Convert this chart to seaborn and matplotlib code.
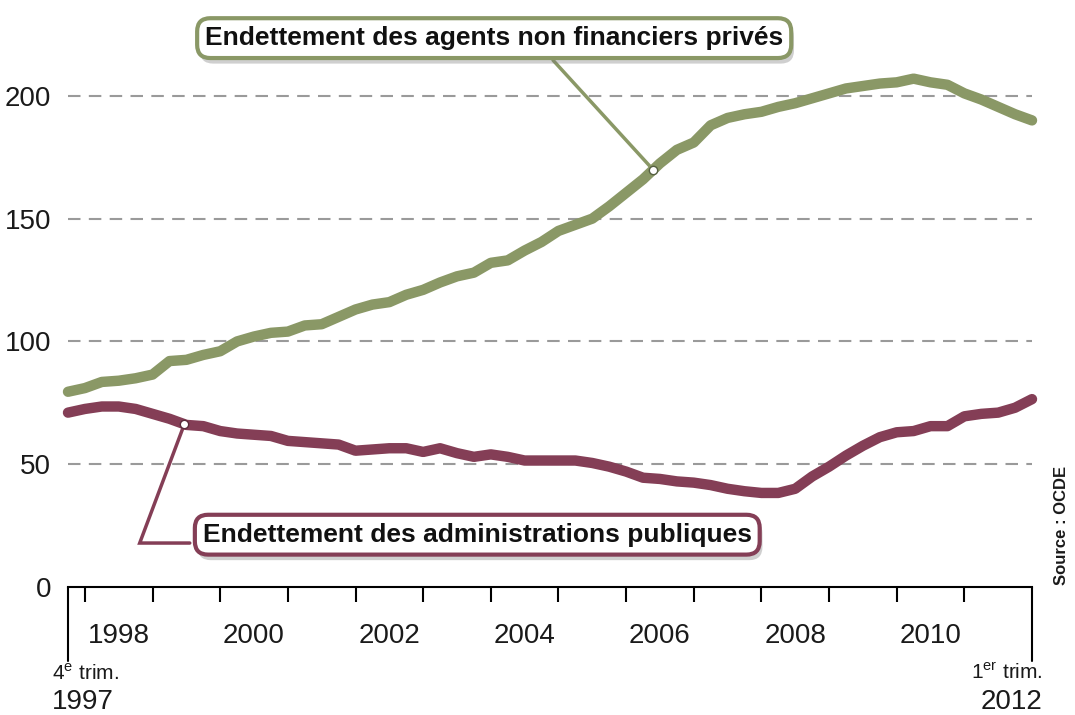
import numpy as np
import pandas as pd
import matplotlib
matplotlib.use("Agg")
import matplotlib.pyplot as plt
import matplotlib.patheffects as pe
import seaborn as sns

# ---- data (quarterly, 1997 Q4 -> 2012 Q1) ----
start_year = 1997.75
prives = [79.5, 81, 83.5, 84, 85, 86.5, 92, 92.5, 94.5, 96,
          100, 102, 103.5, 104, 106.5, 107, 110, 113, 115, 116,
          119, 121, 124, 126.5, 128, 132, 133, 137, 140.5, 145,
          147.5, 150, 155, 160.5, 166, 172.5, 178, 181, 188, 191,
          192.5, 193.5, 195.5, 197, 199, 201, 203, 204, 205, 205.5,
          207, 205.5, 204.5, 201, 198.5, 195.5, 192.5, 190]
publiques = [71, 72.5, 73.5, 73.5, 72.5, 70.5, 68.5, 66, 65.5, 63.5,
             62.5, 62, 61.5, 59.5, 59, 58.5, 58, 55.5, 56, 56.5,
             56.5, 55, 56.5, 54.5, 53, 54, 53, 51.5, 51.5, 51.5,
             51.5, 50.5, 49, 47, 44.5, 44, 43, 42.5, 41.5, 40,
             39, 38.3, 38.3, 40, 45, 49, 53.5, 57.5, 61, 63,
             63.5, 65.5, 65.5, 69.5, 70.5, 71, 73, 76.5]
quarters = start_year + np.arange(len(prives)) * 0.25
label_prives = "Endettement des agents non financiers privés"
label_publiques = "Endettement des administrations publiques"
y_ticks = [0, 50, 100, 150, 200]
year_labels = [1998, 2000, 2002, 2004, 2006, 2008, 2010]
source = "Source : OCDE"

df = pd.DataFrame({
    "date": np.concatenate([quarters, quarters]),
    "valeur": prives + publiques,
    "serie": [label_prives] * len(prives) + [label_publiques] * len(publiques),
})

green = "#8a9866"
purple = "#843e56"

sns.set_theme(style="white")
plt.rcParams["font.family"] = ["Liberation Sans", "DejaVu Sans"]
plt.rcParams["mathtext.fontset"] = "custom"
plt.rcParams["mathtext.rm"] = "Liberation Sans"

fig = plt.figure(figsize=(10.75, 7.15), dpi=100)
ax = fig.add_axes([68 / 1075, 1 - 587 / 715, (1032 - 68) / 1075, (587 - 59) / 715])

sns.lineplot(data=df, x="date", y="valeur", hue="serie",
             palette={label_prives: green, label_publiques: purple},
             linewidth=7.5, legend=False, ax=ax, zorder=3)
for ln in ax.get_lines():
    ln.set_solid_capstyle("round")
    ln.set_solid_joinstyle("round")
    ln.set_clip_on(False)

ax.set_xlim(quarters[0], quarters[-1])
ax.set_ylim(0, 215)

# grid
for v in y_ticks[1:]:
    ax.axhline(v, color="#9a9a9a", lw=1.5, ls=(0, (6, 4)), zorder=1)

for s in ["top", "right", "left"]:
    ax.spines[s].set_visible(False)
ax.spines["bottom"].set_color("black")
ax.spines["bottom"].set_linewidth(1.5)

ax.set_yticks(y_ticks)
ax.set_yticklabels([str(v) for v in y_ticks], fontsize=20)
ax.tick_params(axis="y", length=0, pad=12, labelcolor="#1a1a1a")

years = np.arange(1998, 2012)
ax.set_xticks(years)
ax.set_xticklabels([])
ax.tick_params(axis="x", which="major", direction="out", length=11, width=1.5, color="black", bottom=True)
ax.set_xticks([y + 0.5 for y in year_labels], minor=True)
ax.set_xticklabels([str(y) for y in year_labels], minor=True, fontsize=20)
ax.tick_params(axis="x", which="minor", length=0, pad=26, labelcolor="#1a1a1a")
ax.set_xlabel("")
ax.set_ylabel("")

# end markers of the axis
for xe in (quarters[0], quarters[-1]):
    ax.axvline(xe, ymin=-0.14, ymax=0, color="black", lw=1.5, clip_on=False)

ax.text(quarters[0] - 0.24, -0.163, "4$^{\\mathrm{e}}$ trim.", transform=ax.get_xaxis_transform(),
        ha="left", va="center", fontsize=15, color="#1a1a1a")
ax.text(quarters[0] - 0.24, -0.217, "1997", transform=ax.get_xaxis_transform(),
        ha="left", va="center", fontsize=20, color="#1a1a1a")
ax.text(quarters[-1] + 0.16, -0.163, "1$^{\\mathrm{er}}$ trim.", transform=ax.get_xaxis_transform(),
        ha="right", va="center", fontsize=15, color="#1a1a1a")
ax.text(quarters[-1] + 0.16, -0.217, "2012", transform=ax.get_xaxis_transform(),
        ha="right", va="center", fontsize=20, color="#1a1a1a")

# source
fig.text(1062 / 1075, 1 - 525 / 715, source, rotation=90, ha="center", va="center",
         fontsize=12, fontweight="bold", color="#1a1a1a")

shadow = [pe.SimplePatchShadow(offset=(2, -4), shadow_rgbFace="#777777", alpha=0.35), pe.Normal()]

# annotation: private agents
px = 2006.4
py = float(np.interp(px, quarters, prives))
tx, ty = 2004.05, 223.5
t1 = ax.text(tx, ty, label_prives, ha="center", va="center", fontsize=19, fontweight="bold",
             color="#111111", zorder=6,
             bbox=dict(boxstyle="round,pad=0.3,rounding_size=0.5", fc="white", ec=green, lw=3))
t1.set_clip_on(False)
t1.get_bbox_patch().set_path_effects(shadow)
ax.plot([2004.92, px], [214.5, py], color=green, lw=2.5, zorder=4, clip_on=False)
ax.plot([px], [py], marker="o", ms=6, mfc="white", mec="#556040", mew=1, zorder=7, clip_on=False)

# annotation: public administrations
qx = 1999.47
qy = float(np.interp(qx, quarters, publiques))
t2 = ax.text(2003.8, 21.3, label_publiques, ha="center", va="center", fontsize=19, fontweight="bold",
             color="#111111", zorder=6,
             bbox=dict(boxstyle="round,pad=0.3,rounding_size=0.5", fc="white", ec=purple, lw=3))
t2.get_bbox_patch().set_path_effects(shadow)
ax.plot([1999.55, 1998.81, qx], [17.9, 17.9, qy], color=purple, lw=2.5, zorder=4,
        solid_joinstyle="miter", clip_on=False)
ax.plot([qx], [qy], marker="o", ms=6, mfc="white", mec="#5a2a3a", mew=1, zorder=7, clip_on=False)

fig.savefig("out.png", dpi=100)
